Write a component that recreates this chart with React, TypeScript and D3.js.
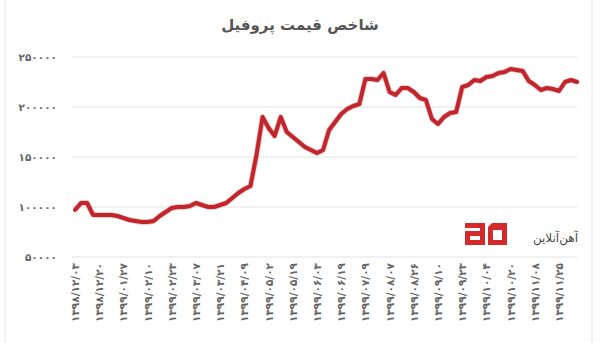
import React from "react";
import * as d3 from "d3";

const title = "شاخص قیمت پروفیل";
const brand = "آهن‌آنلاین";

const dateLabels = [
  "1398/12/03", "1398/12/20", "1399/01/27", "1399/02/10", "1399/02/23",
  "1399/03/07", "1399/03/21", "1399/04/09", "1399/05/02", "1399/05/19",
  "1399/06/03", "1399/06/19", "1399/07/09", "1399/08/07", "1399/08/26",
  "1399/09/10", "1399/09/23", "1399/10/04", "1399/10/20", "1399/11/08",
  "1399/11/25",
];

const yTicks = [50000, 100000, 150000, 200000, 250000];

const values = [
  97000, 104000, 104000, 92000, 92000, 92000, 92000, 91000, 89000, 87000,
  86000, 85000, 85000, 86000, 91000, 95000, 99000, 100000, 100000, 101000,
  104000, 102000, 100000, 100000, 102000, 104000, 109000, 114000, 118000, 121000,
  152000, 190000, 179000, 171000, 190000, 175000, 170000, 165000, 160000, 157000,
  154000, 157000, 177000, 185000, 193000, 198000, 201000, 203000, 228000, 228000,
  227000, 234000, 215000, 212000, 219000, 219000, 215000, 209000, 207000, 188000,
  183000, 190000, 194000, 195000, 220000, 222000, 227000, 226000, 230000, 231000,
  234000, 235000, 238000, 237000, 236000, 226000, 222000, 217000, 219000, 218000,
  216000, 225000, 227000, 225000,
];

const pointsPerLabel = 4;

const toPersian = (s: string) => s.replace(/[0-9]/g, (d) => "۰۱۲۳۴۵۶۷۸۹"[+d]);

export default function App() {
  const W = 600, H = 343;
  const x = d3.scaleLinear().domain([0, dateLabels.length - 1]).range([75, 559]);
  const y = d3.scaleLinear().domain([50000, 250000]).range([257, 57]);
  const xi = (i: number) => x(i / pointsPerLabel);
  const line = d3.line<number>().x((_, i) => xi(i)).y((d) => y(d));
  const font = "'DejaVu Sans', sans-serif";
  return (
    <svg width={W} height={H} style={{ position: "absolute", left: 0, top: 0, background: "#fff" }}>
      <defs>
        <filter id="soft" x="-5%" y="-5%" width="110%" height="110%">
          <feGaussianBlur stdDeviation="0.7" />
        </filter>
      </defs>
      <rect x={0} y={0} width={W} height={H} fill="#fff" />
      <line x1={5} x2={5} y1={0} y2={H} stroke="#e6e6e6" />
      <line x1={592} x2={592} y1={0} y2={H} stroke="#e6e6e6" />
      <text x={300} y={30} textAnchor="middle" direction="rtl" fontFamily={font} fontWeight="bold" fontSize={15} fill="#555">{title}</text>
      {yTicks.map((t) => (
        <g key={t}>
          <line x1={72} x2={577} y1={y(t)} y2={y(t)} stroke="#e2e2e2" strokeWidth={1} />
          <text x={57} y={y(t)} dy="0.35em" textAnchor="end" fontFamily={font} fontWeight="bold" fontSize={10.5} fill="#666">{toPersian(String(t))}</text>
        </g>
      ))}
      {dateLabels.map((l, i) => (
        <text key={l} transform={`translate(${x(i)},263) rotate(-90)`} textAnchor="end" dominantBaseline="central" fontFamily={font} fontWeight="bold" fontSize={10.5} fill="#666">{toPersian(l)}</text>
      ))}
      <path d={line(values) || ""} fill="none" stroke="#a01a20" strokeWidth={5.5} strokeOpacity={0.3} strokeLinejoin="round" filter="url(#soft)" />
      <path d={line(values) || ""} fill="none" stroke="#c4252b" strokeWidth={4} strokeLinejoin="round" strokeLinecap="round" />
      <g fill="#d42a2a">
        <rect x={465} y={223} width={20} height={5} />
        <rect x={480} y={223} width={5} height={22} />
        <rect x={465} y={231} width={20} height={5} />
        <rect x={465} y={231} width={5} height={14} />
        <rect x={465} y={240} width={20} height={5} />
        <path d="M488,227 L492,223 L507,223 L507,245 L488,245 Z M493,230 L493,240 L502,240 L502,230 Z" fillRule="evenodd" />
      </g>
      <text x={578} y={238} dy="0.35em" textAnchor="start" direction="rtl" fontFamily={font} fontSize={12} fill="#444">{brand}</text>
    </svg>
  );
}
